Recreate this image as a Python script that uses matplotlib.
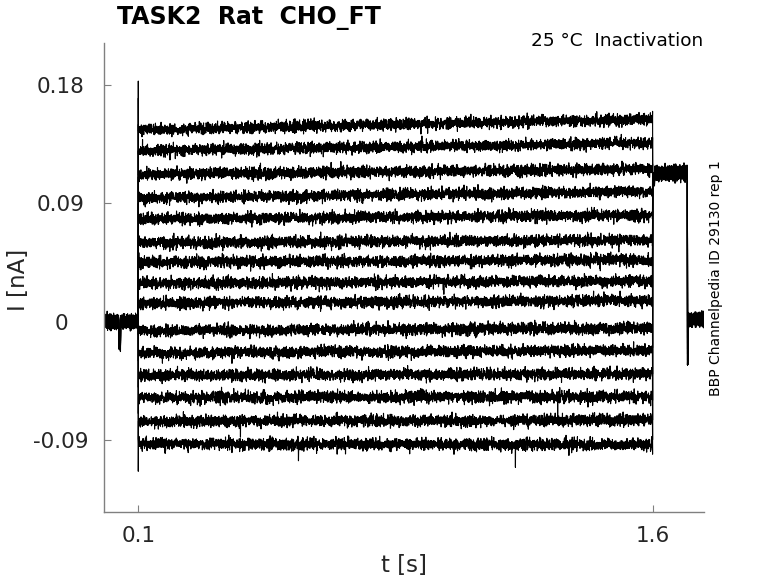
import numpy as np
import matplotlib
matplotlib.use("Agg")
import matplotlib.pyplot as plt

# ---- data ----
title = "TASK2  Rat  CHO_FT"
subtitle = "25 °C  Inactivation"
side_note = "BBP Channelpedia ID 29130 rep 1"
xticks = [0.1, 1.6]
xticklabels = ["0.1", "1.6"]
yticks = [-0.09, 0, 0.09, 0.18]
yticklabels = ["-0.09", "0", "0.09", "0.18"]

t_pre_end = 0.1        # prepulse onset [s]
t_step_end = 1.6       # end of conditioning step [s]
t_test_end = 1.702     # end of test pulse [s]
t_final = 1.75

# conditioning-step current levels per sweep [nA] (start / end of step)
level_start = [0.146, 0.130, 0.112, 0.094, 0.078, 0.060, 0.045, 0.029, 0.014,
               -0.007, -0.024, -0.041, -0.058, -0.076, -0.093]
level_end = [0.154, 0.136, 0.116, 0.099, 0.081, 0.062, 0.047, 0.031, 0.016,
             -0.005, -0.022, -0.040, -0.057, -0.075, -0.094]
# capacitive transients at the step onset / offset [nA]
onset_peak = [0.183, 0.170, 0.150, 0.130, 0.110, 0.090, 0.070, 0.050, 0.030,
              -0.010, -0.030, -0.050, -0.070, -0.090, -0.114]
offset_peak = [0.160, 0.140, 0.120, 0.110, 0.100, 0.090, 0.080, 0.070, 0.060,
               -0.020, -0.040, -0.060, -0.075, -0.090, -0.101]
holding_level = 0.0
prepulse_dip = (0.043, 0.048, -0.017)   # t0, t1, value
test_level = 0.113
test_dip = -0.033                       # transient at end of test pulse
post_level = 0.0015
# isolated glitches: (sweep index, time, value)
glitches = [(14, 0.567, -0.106), (14, 1.200, -0.111), (13, 0.398, -0.088),
            (12, 1.323, -0.075)]
noise_sd = 0.0021

# ---- figure ----
W, H = 778, 583
fig = plt.figure(figsize=(W / 100, H / 100), dpi=100)
ax = fig.add_axes([104 / W, 1 - 512 / H, 600 / W, 469 / H])

rng = np.random.default_rng(7)   # measurement-noise texture only
dt = 0.0004
t = np.arange(0, t_final + dt / 2, dt)
for i in range(len(level_start)):
    y = np.empty_like(t)
    pre = t < t_pre_end
    step = (t >= t_pre_end) & (t < t_step_end)
    test = (t >= t_step_end) & (t < t_test_end)
    post = t >= t_test_end
    y[pre] = holding_level
    y[(t >= prepulse_dip[0]) & (t <= prepulse_dip[1])] = prepulse_dip[2]
    frac = (t[step] - t_pre_end) / (t_step_end - t_pre_end)
    y[step] = level_start[i] + (level_end[i] - level_start[i]) * frac
    y[test] = test_level
    y[post] = post_level
    y = y + rng.normal(0, noise_sd, t.size)
    y[(t >= t_step_end) & (t < t_step_end + 0.006)] -= 0.005
    k0 = np.searchsorted(t, t_pre_end)
    y[k0] = onset_peak[i]
    k1 = np.searchsorted(t, t_step_end)
    y[k1] = offset_peak[i]
    k2 = np.searchsorted(t, t_test_end)
    y[k2] = test_dip
    y[k2 + 1] = test_dip * 0.6
    for (gi, gt, gv) in glitches:
        if gi == i:
            y[np.searchsorted(t, gt)] = gv
    ax.plot(t, y, color="black", lw=0.8)

ax.set_xlim(0, t_final)
ax.set_ylim(-0.145, 0.212)
for s in ["top", "right"]:
    ax.spines[s].set_visible(False)
for s in ["left", "bottom"]:
    ax.spines[s].set_color("#808080")
    ax.spines[s].set_linewidth(1.0)
ax.set_xticks(xticks)
ax.set_xticklabels(xticklabels)
ax.set_yticks(yticks)
ax.set_yticklabels(yticklabels)
ax.tick_params(direction="in", length=5, color="#808080", labelsize=15.5,
               labelcolor="#262626")
ax.tick_params(axis="x", pad=10)
for lab in ax.get_yticklabels():
    lab.set_horizontalalignment("center")
ax.yaxis.set_tick_params(pad=31)

ax.set_xlabel("t [s]", fontsize=16.5, color="#262626", labelpad=6)
fig.text(18 / W, 1 - 280 / H, "I [nA]", fontsize=16.5, color="#262626",
         rotation=90, ha="center", va="center")

fig.text(117 / W, 1 - 18 / H, title, fontsize=17, fontweight="bold",
         ha="left", va="center", color="black")
fig.text(703 / W, 1 - 41 / H, subtitle, fontsize=13.3, ha="right",
         va="center", color="black")
fig.text(716 / W, 1 - 278 / H, side_note, fontsize=10, rotation=90,
         ha="center", va="center", color="black")

fig.savefig("out.png", dpi=100)
